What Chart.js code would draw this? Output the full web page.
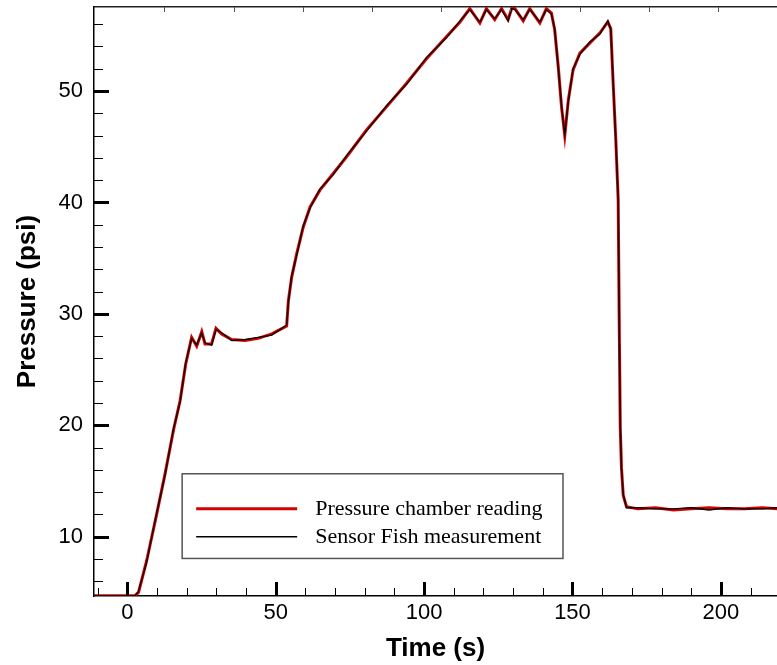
<!DOCTYPE html>
<html>
<head>
<meta charset="utf-8">
<script src="https://cdn.jsdelivr.net/npm/chart.js@4"></script>
<style>
  body { margin: 0; background: #fff; }
  #wrap { width: 777px; height: 665px; }
</style>
</head>
<body>
<div id="wrap"><canvas id="myChart" width="777" height="665"></canvas></div>
<script>
// time (s) shared by both series
const time = [
  -11.2, 2.6, 3.8, 6.5, 9.9, 12.7, 15.6, 17.8, 19.7, 21.7,
  23.4, 25.1, 26.2, 28.4, 29.9, 31.8, 35.2, 39.7, 44.1, 48.7,
  53.7, 54.3, 55.4, 57.1, 59.3, 61.6, 64.9, 69.4, 73.9, 80.6,
  87.4, 94.1, 100.8, 107.6, 112.1, 115.4, 118.8, 121.0, 123.8, 126.1,
  128.3, 129.5, 130.6, 133.4, 135.6, 139.0, 141.2, 142.9, 144.0, 145.2,
  146.3, 147.4, 148.6, 150.2, 152.5, 155.8, 159.2, 161.9, 162.9, 163.7,
  164.6, 165.4, 165.8, 166.1, 166.5, 167.1, 168.2, 172, 178, 184,
  190, 196, 202, 208, 214, 219
]

const chamber = [
  4.7, 4.7, 5.0, 7.8, 12.0, 15.6, 19.6, 22.2, 25.5, 27.9,
  27.1, 28.4, 27.3, 27.3, 28.7, 28.2, 27.7, 27.6, 27.8, 28.2,
  28.9, 31.2, 33.3, 35.4, 37.8, 39.6, 41.1, 42.6, 44.1, 46.5,
  48.6, 50.7, 52.9, 54.9, 56.2, 57.4, 56.1, 57.4, 56.4, 57.4,
  56.4, 57.4, 57.4, 56.3, 57.4, 56.1, 57.4, 57.0, 55.5, 52.2,
  48.6, 46.0, 49.2, 51.9, 53.4, 54.3, 55.2, 56.2, 55.6, 50.7,
  45.6, 40.2, 27.6, 19.8, 16.2, 13.7, 12.7, 12.5, 12.6, 12.4,
  12.5, 12.6, 12.5, 12.5, 12.6, 12.5
]

const sensor = [
  4.7, 4.7, 5.1, 7.7, 12.1, 15.5, 19.7, 22.1, 25.6, 27.8,
  27.2, 28.3, 27.4, 27.2, 28.6, 28.3, 27.6, 27.7, 27.9, 28.1,
  29.0, 31.1, 33.4, 35.3, 37.9, 39.5, 41.2, 42.5, 44.2, 46.4,
  48.7, 50.6, 53.0, 54.8, 56.3, 57.3, 56.2, 57.3, 56.5, 57.3,
  56.3, 57.4, 57.3, 56.4, 57.3, 56.2, 57.3, 56.9, 55.6, 52.1,
  48.7, 46.1, 49.1, 52.0, 53.3, 54.4, 55.1, 56.3, 55.5, 50.8,
  45.5, 40.3, 27.5, 19.9, 16.1, 13.8, 12.6, 12.6, 12.5, 12.5,
  12.6, 12.4, 12.6, 12.5, 12.5, 12.6
]

const seriesNames = ['Pressure chamber reading', 'Sensor Fish measurement']
const xMajor = [0, 50, 100, 150, 200]
const yMajor = [10, 20, 30, 40, 50]
const topTicks = [12.5, 35.8, 59.1, 82.5, 105.8, 129.1, 152.4, 175.8, 199.1]

const ctx = document.getElementById('myChart')

// fixed axis sizes, and no extra room for edge labels
function fixSize(axis, size) {
  if (axis.isHorizontal()) axis.height = size
  else axis.width = size
  axis.paddingTop = 0
  axis.paddingBottom = 0
  axis.paddingLeft = 0
  axis.paddingRight = 0
}

// tick marks point into the plot, so draw them ourselves from the scales
const innerTicks = {
  id: 'innerTicks',
  afterDatasetsDraw(chart) {
    const c = chart.ctx
    const area = chart.chartArea
    const xs = chart.scales.x
    const ys = chart.scales.y
    c.save()
    c.strokeStyle = '#000'
    for (let v = 6; v <= 56; v += 2) {
      const major = yMajor.includes(v)
      const py = Math.round(ys.getPixelForValue(v)) + 0.5
      c.lineWidth = major ? 3 : 1
      c.beginPath()
      c.moveTo(area.left, py)
      c.lineTo(area.left + (major ? 15 : 9), py)
      c.stroke()
    }
    for (let v = -10; v <= 210; v += 10) {
      const major = xMajor.includes(v)
      const px = Math.round(xs.getPixelForValue(v)) + 0.5
      c.lineWidth = major ? 3 : 1
      c.beginPath()
      c.moveTo(px, area.bottom)
      c.lineTo(px, area.bottom - (major ? 14 : 8))
      c.stroke()
    }
    c.strokeStyle = '#555'
    c.lineWidth = 1
    topTicks.forEach(v => {
      const px = Math.round(xs.getPixelForValue(v)) + 0.5
      c.beginPath()
      c.moveTo(px, area.top)
      c.lineTo(px, area.top + 5)
      c.stroke()
    })
    c.restore()
  }
}

// legend box inside the plot
const boxLegend = {
  id: 'boxLegend',
  afterDraw(chart) {
    const c = chart.ctx
    const xs = chart.scales.x
    const ys = chart.scales.y
    const left = xs.getPixelForValue(18.5)
    const right = xs.getPixelForValue(146.8)
    const top = ys.getPixelForValue(15.65)
    const bottom = ys.getPixelForValue(8.05)
    c.save()
    c.fillStyle = '#fff'
    c.fillRect(left, top, right - left, bottom - top)
    c.strokeStyle = '#555'
    c.lineWidth = 1.5
    c.strokeRect(left, top, right - left, bottom - top)
    c.font = '22px "Liberation Serif", "Times New Roman", serif'
    c.textBaseline = 'middle'
    c.fillStyle = '#000'
    const legendOrder = [0, 1]
    legendOrder.forEach((i, k) => {
      const ds = chart.data.datasets[i]
      const y = top + 35 + k * 28
      c.strokeStyle = ds.borderColor
      c.lineWidth = ds.borderWidth
      c.beginPath()
      c.moveTo(left + 14, y)
      c.lineTo(left + 115, y)
      c.stroke()
      c.fillText(ds.label, left + 133, y)
    })
    c.restore()
  }
}

new Chart(ctx, {
  type: 'line',
  data: {
    datasets: [{
      label: seriesNames[0],
      data: time.map((t, i) => ({x: t, y: chamber[i]})),
      borderColor: '#d40000',
      borderWidth: 3,
      pointRadius: 0,
      order: 2
    },
    {
      label: seriesNames[1],
      data: time.map((t, i) => ({x: t, y: sensor[i]})),
      borderColor: '#000',
      borderWidth: 1.3,
      pointRadius: 0,
      order: 1
    }]
  },
  options: {
    responsive: false,
    animation: false,
    layout: { padding: 0 },
    plugins: {
      legend: { display: false },
      tooltip: { enabled: false }
    },
    scales: {
      x: {
        type: 'linear',
        position: 'bottom',
        min: -11.2,
        max: 218.9,
        afterBuildTicks: axis => { axis.ticks = xMajor.map(v => ({value: v})) },
        afterFit: axis => fixSize(axis, 69),
        grid: { display: false, drawTicks: false },
        border: { display: true, color: '#000', width: 1.5 },
        ticks: {
          color: '#000',
          padding: 4,
          font: { family: '"Liberation Sans", Arial, sans-serif', size: 22 }
        },
        title: {
          display: true,
          text: 'Time (s)',
          color: '#000',
          padding: { top: 0, bottom: 1 },
          font: { family: '"Liberation Sans", Arial, sans-serif', size: 26, weight: 'bold' }
        }
      },
      x2: {
        type: 'linear',
        position: 'top',
        min: -11.2,
        max: 218.9,
        afterFit: axis => fixSize(axis, 7),
        grid: { display: false, drawTicks: false },
        border: { display: true, color: '#222', width: 1.5 },
        ticks: { display: false }
      },
      y: {
        type: 'linear',
        min: 4.68,
        max: 57.54,
        afterBuildTicks: axis => { axis.ticks = yMajor.map(v => ({value: v})) },
        afterFit: axis => fixSize(axis, 94),
        grid: { display: false, drawTicks: false },
        border: { display: true, color: '#000', width: 1.5 },
        ticks: {
          color: '#000',
          padding: 11,
          font: { family: '"Liberation Sans", Arial, sans-serif', size: 22 }
        },
        title: {
          display: true,
          text: 'Pressure (psi)',
          color: '#000',
          padding: { top: 12, bottom: 0 },
          font: { family: '"Liberation Sans", Arial, sans-serif', size: 26, weight: 'bold' }
        }
      }
    }
  },
  plugins: [innerTicks, boxLegend]
})
</script>
</body>
</html>
